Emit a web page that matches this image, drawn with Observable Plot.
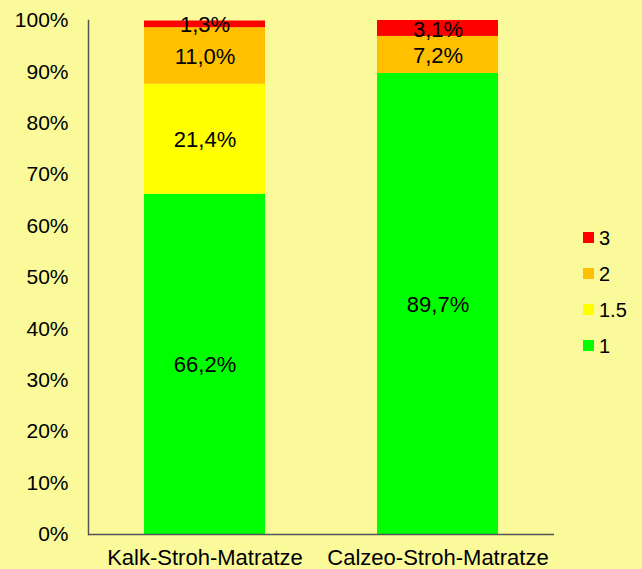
<!DOCTYPE html>
<html>
<head>
<meta charset="utf-8">
<script src="https://cdn.jsdelivr.net/npm/d3@7"></script>
<script src="https://cdn.jsdelivr.net/npm/@observablehq/plot@0.6"></script>
<style>
  html, body { margin: 0; padding: 0; background: #FAFA9A; }
  #wrap { position: relative; width: 642px; height: 569px; overflow: hidden; }
  #legend { position: absolute; left: 583px; top: 226px; font-family: "Liberation Sans", Arial, sans-serif; font-size: 20px; color: #000; }
  .item { position: absolute; left: 0; height: 24px; white-space: nowrap; }
  .sw { position: absolute; left: 0; top: 6px; width: 11px; height: 11px; }
  .lab { position: absolute; left: 16px; top: 0; line-height: 24px; }
</style>
</head>
<body>
<div id="wrap"><div id="legend"></div></div>
<script>
const categories = ["Kalk-Stroh-Matratze", "Calzeo-Stroh-Matratze"];
const seriesNames = ["1", "1.5", "2", "3"];
const seriesColors = ["#00FF00", "#FFFF00", "#FFC000", "#FF0000"];
const values1 = [66.2, 89.7];
const values15 = [21.4, 0];
const values2 = [11.0, 7.2];
const values3 = [1.3, 3.1];
const yTicks = [0, 10, 20, 30, 40, 50, 60, 70, 80, 90, 100];

const seriesValues = [values1, values15, values2, values3];
const data = [];
categories.forEach((c, ci) => {
  seriesNames.forEach((s, si) => {
    data.push({cat: c, series: s, value: seriesValues[si][ci], order: si});
  });
});
const fmt = v => v.toFixed(1).replace(".", ",") + "%";
const font = "Liberation Sans, Arial, sans-serif";

const chart = Plot.plot({
  width: 642,
  height: 569,
  marginLeft: 88,
  marginRight: 88,
  marginTop: 20,
  marginBottom: 35,
  style: {background: "transparent", fontFamily: font, fontSize: "21px", color: "#000"},
  x: {domain: categories, paddingInner: 0.48, paddingOuter: 0.24, label: null},
  y: {domain: [0, 100], label: null},
  color: {domain: seriesNames, range: seriesColors},
  marks: [
    Plot.barY(data, Plot.stackY({order: "order", x: "cat", y: "value", fill: "series"})),
    Plot.text(data.filter(d => d.value > 0), Plot.stackY({order: "order", x: "cat", y: "value", text: d => fmt(d.value), fontSize: 22, fill: "#000", dy: 1})),
    Plot.axisY({ticks: yTicks, tickFormat: d => d + "%", tickSize: 0, tickPadding: 20, fontSize: 21, label: null}),
    Plot.axisX({tickSize: 0, tickPadding: 15, fontSize: 22, label: null}),
    Plot.frame({anchor: "left", stroke: "#555", strokeWidth: 1.5}),
    Plot.ruleY([0], {stroke: "#555", strokeWidth: 1.5})
  ]
});
document.getElementById("wrap").prepend(chart);

const legend = document.getElementById("legend");
const order = [3, 2, 1, 0];
order.forEach((si, i) => {
  const it = document.createElement("div");
  it.className = "item";
  it.style.top = (i * 36) + "px";
  it.innerHTML = `<div class="sw" style="background:${seriesColors[si]}"></div><div class="lab">${seriesNames[si]}</div>`;
  legend.appendChild(it);
});
</script>
</body>
</html>
